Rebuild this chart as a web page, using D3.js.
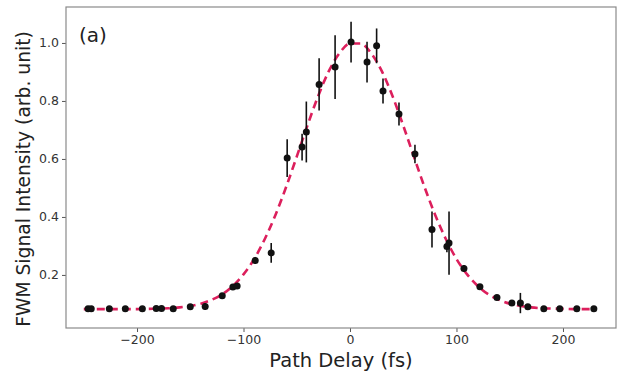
<!DOCTYPE html>
<html>
<head>
<meta charset="utf-8">
<script src="https://cdn.jsdelivr.net/npm/d3@7"></script>
<style>
  body { margin: 0; background: #fff; }
  .tick text { font-family: "DejaVu Sans", sans-serif; font-size: 12.5px; fill: #333; }
  .lableText { font-family: "DejaVu Sans", sans-serif; fill: #222; }
</style>
</head>
<body>
<div id="chart"></div>
<script>

// measured points (fs, intensity, error)
var delay  = [-246, -243, -226, -211, -195, -182, -177, -166, -150, -136, -120, -110, -106, -89, -74,
              -59, -45, -41, -29, -14, 1, 16, 25, 31, 46, 61, 77, 91, 93, 107, 122, 138, 152, 160, 167,
              182, 197, 213, 229];
var signal = [0.083, 0.083, 0.083, 0.083, 0.083, 0.084, 0.084, 0.083, 0.09, 0.091, 0.128, 0.158, 0.162, 0.25, 0.276,
              0.603, 0.641, 0.693, 0.857, 0.917, 1.003, 0.934, 0.99, 0.834, 0.755, 0.617, 0.357, 0.298, 0.31, 0.222, 0.159, 0.122, 0.103, 0.103, 0.09,
              0.083, 0.083, 0.083, 0.083];
var errBar = [0.006, 0.006, 0.005, 0.005, 0.005, 0.006, 0.006, 0.005, 0.008, 0.012, 0.008, 0.008, 0.008, 0.012, 0.034,
              0.065, 0.046, 0.105, 0.09, 0.11, 0.07, 0.07, 0.06, 0.043, 0.04, 0.032, 0.062, 0.02, 0.109, 0.012, 0.008, 0.006, 0.008, 0.035, 0.008,
              0.005, 0.005, 0.005, 0.005];

// gaussian fit, every 10 fs
var fitDelay  = [-250, -240, -230, -220, -210, -200, -190, -180, -170, -160, -150, -140, -130, -120, -110, -100,
                 -90, -80, -70, -60, -50, -40, -30, -20, -10, 0, 10, 20, 30, 40, 50, 60, 70, 80, 90, 100,
                 110, 120, 130, 140, 150, 160, 170, 180, 190, 200, 210, 220, 230];
var fitSignal = [0.082, 0.082, 0.082, 0.082, 0.082, 0.082, 0.083, 0.084, 0.085, 0.088, 0.093, 0.101, 0.114, 0.133, 0.162, 0.202,
                 0.255, 0.324, 0.407, 0.503, 0.608, 0.715, 0.816, 0.902, 0.964, 0.998, 0.998, 0.964, 0.902, 0.816, 0.715, 0.608, 0.503, 0.407, 0.324, 0.255,
                 0.202, 0.162, 0.133, 0.114, 0.101, 0.093, 0.088, 0.085, 0.084, 0.083, 0.082, 0.082, 0.082];

var xTicks = [-200, -100, 0, 100, 200];
var yTicks = [0.2, 0.4, 0.6, 0.8, 1.0];

var margin = {top: 7, right: 2, bottom: 47, left: 66};
var width = 618 - margin.left - margin.right;
var height = 375 - margin.top - margin.bottom;

var svg = d3.select("#chart")
  .append("svg")
  .attr("width", 618)
  .attr("height", 375);

var g = svg.append("g")
  .attr("transform", "translate(" + margin.left + "," + margin.top + ")");

var xScale = d3.scaleLinear()
  .domain([-266.7, 249.8])
  .range([0, width]);

var yScale = d3.scaleLinear()
  .domain([0.017, 1.124])
  .range([height, 0]);

g.append("g")
  .attr("class", "axis axis--x")
  .attr("transform", "translate(0," + height + ")")
  .call(d3.axisBottom(xScale).tickValues(xTicks).tickSize(4).tickPadding(3)
    .tickFormat(function(d) { return d < 0 ? "\u2212" + Math.abs(d) : d; }));

g.append("g")
  .attr("class", "axis axis--y")
  .call(d3.axisLeft(yScale).tickValues(yTicks).tickSize(4).tickPadding(3)
    .tickFormat(d3.format(".1f")));

g.selectAll(".axis .domain").remove();
g.selectAll(".axis line").attr("stroke", "#555");

// frame
g.append("rect")
  .attr("width", width)
  .attr("height", height)
  .attr("fill", "none")
  .attr("stroke", "#8a8a8a")
  .attr("stroke-width", 1.2);

var fitLine = d3.line()
  .x(function(d, i) { return xScale(fitDelay[i]); })
  .y(function(d) { return yScale(d); })
  .curve(d3.curveMonotoneX);

g.append("path")
  .datum(fitSignal)
  .attr("d", fitLine)
  .attr("fill", "none")
  .attr("stroke", "#dc1f5c")
  .attr("stroke-width", 2.6)
  .attr("stroke-dasharray", "8,5");

g.selectAll(".err")
  .data(signal)
  .enter()
  .append("line")
  .attr("class", "err")
  .attr("x1", function(d, i) { return xScale(delay[i]); })
  .attr("x2", function(d, i) { return xScale(delay[i]); })
  .attr("y1", function(d, i) { return yScale(d - errBar[i]); })
  .attr("y2", function(d, i) { return yScale(d + errBar[i]); })
  .attr("stroke", "#111")
  .attr("stroke-width", 1.6);

g.selectAll(".dot")
  .data(signal)
  .enter()
  .append("circle")
  .attr("class", "dot")
  .attr("cx", function(d, i) { return xScale(delay[i]); })
  .attr("cy", function(d) { return yScale(d); })
  .attr("r", 3.5)
  .attr("fill", "#111");

g.append("text")
  .attr("class", "lableText")
  .attr("x", 13)
  .attr("y", 35)
  .style("font-size", "20px")
  .text("(a)");

svg.append("text")
  .attr("class", "lableText")
  .attr("x", margin.left + width / 2)
  .attr("y", 367)
  .style("text-anchor", "middle")
  .style("font-size", "19.5px")
  .text("Path Delay (fs)");

svg.append("text")
  .attr("class", "lableText")
  .attr("transform", "translate(30,179) rotate(-90)")
  .style("text-anchor", "middle")
  .style("font-size", "18.7px")
  .text("FWM Signal Intensity (arb. unit)");

</script>
</body>
</html>
